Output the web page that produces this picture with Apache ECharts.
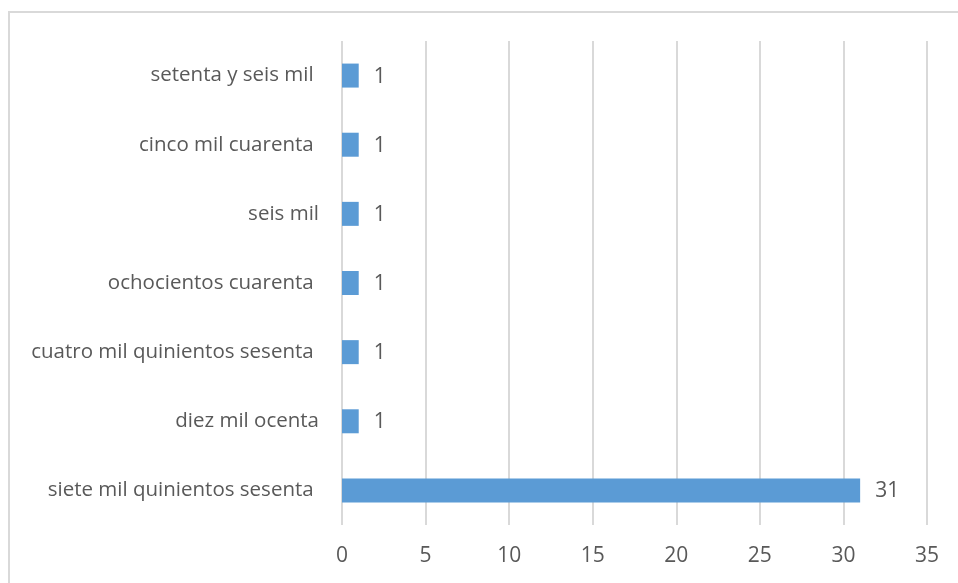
<!DOCTYPE html>
<html>
<head>
<meta charset="utf-8">
<script src="https://cdn.jsdelivr.net/npm/echarts@6/dist/echarts.min.js"></script>
<style>
  html, body { margin: 0; padding: 0; background: #ffffff; }
  #wrap { position: relative; width: 958px; height: 583px; overflow: hidden; }
  #frame { position: absolute; left: 8px; top: 11px; width: 1000px; height: 700px;
           border-top: 2px solid #D9D9D9; border-left: 2px solid #D9D9D9; box-sizing: border-box; }
  #chart { position: absolute; left: 0; top: 0; width: 958px; height: 583px; }
</style>
</head>
<body>
<div id="wrap">
  <div id="frame"></div>
  <div id="chart"></div>
</div>
<script>
// Categories listed bottom to top (category axis starts at the bottom)
const categories = [
  'siete mil quinientos sesenta ',
  'diez mil ocenta',
  'cuatro mil quinientos sesenta ',
  'ochocientos cuarenta ',
  'seis mil',
  'cinco mil cuarenta ',
  'setenta y seis mil '
];
const counts = [31, 1, 1, 1, 1, 1, 1];
const xTicks = { min: 0, max: 35, interval: 5 };

const textColor = '#595959';
const fontFamily = '"Open Sans", "Liberation Sans", sans-serif';

const chart = echarts.init(document.getElementById('chart'), null, { renderer: 'canvas' });
chart.setOption({
  backgroundColor: 'transparent',
  animation: false,
  grid: { left: 342, right: 31, top: 41, bottom: 58, containLabel: false },
  xAxis: {
    type: 'value',
    min: xTicks.min,
    max: xTicks.max,
    interval: xTicks.interval,
    axisLine: { show: false },
    axisTick: { show: false },
    splitLine: { show: true, lineStyle: { color: '#D9D9D9', width: 2 } },
    axisLabel: { color: textColor, fontSize: 21, fontFamily: fontFamily, margin: 21 }
  },
  yAxis: {
    type: 'category',
    data: categories,
    axisLine: { show: false },
    axisTick: { show: false },
    axisLabel: { color: textColor, fontSize: 20.5, fontFamily: fontFamily, margin: 23 }
  },
  series: [{
    type: 'bar',
    data: counts,
    barWidth: 24,
    itemStyle: { color: '#5B9BD5' },
    label: {
      show: true,
      position: 'right',
      distance: 15,
      color: textColor,
      fontSize: 21,
      fontFamily: fontFamily,
      offset: [0, 1]
    }
  }]
});
</script>
</body>
</html>
